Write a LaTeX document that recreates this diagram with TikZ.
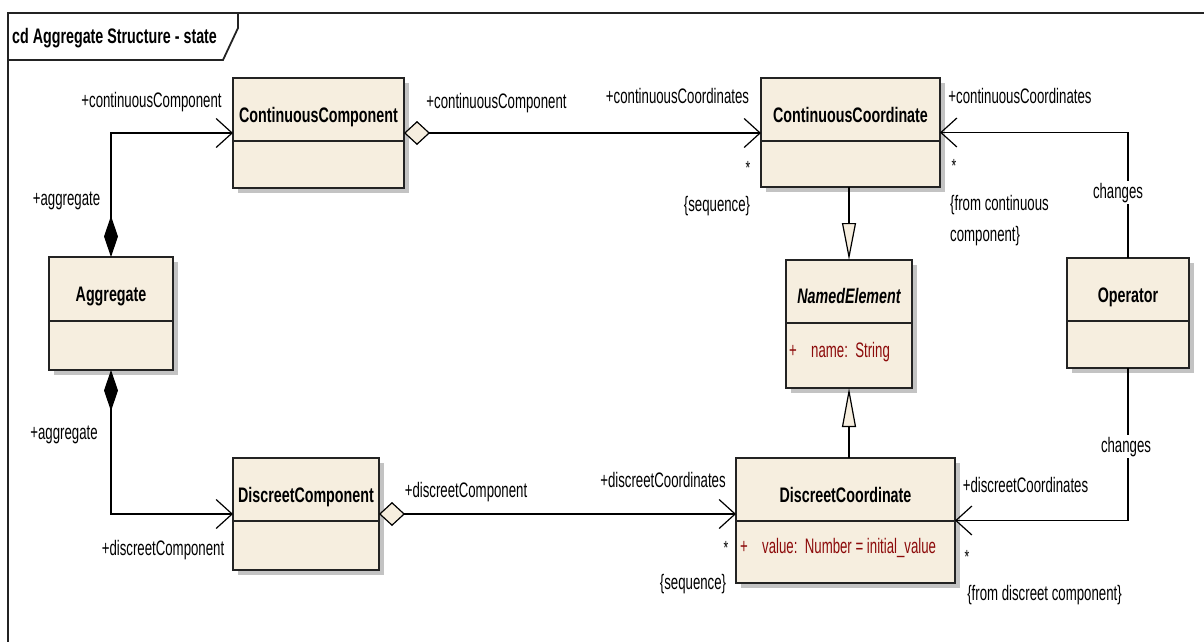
\documentclass[tikz,border=0pt]{standalone}
\usepackage{fontspec}
\usetikzlibrary{arrows.meta}
\newfontfamily\lblfont[FakeStretch=0.63]{Liberation Sans}
\newfontfamily\clsfont[FakeStretch=0.68]{Liberation Sans}
\definecolor{beige}{RGB}{246,238,223}
\definecolor{shadowc}{RGB}{195,195,195}
\definecolor{attrred}{RGB}{140,10,10}
\definecolor{edge}{RGB}{35,35,35}
\newcommand\umlbox[6]{%
  \fill[shadowc] (#2+5,#3+5) rectangle (#4+5,#6+5);
  \node[clsbox, minimum width={#4-#2}, minimum height={#6-#3}, anchor=north west] (#1) at (#2,#3) {};
  \draw[clsline] (#2,#5) -- (#4,#5);
}
\begin{document}
\begin{tikzpicture}[x=1pt,y=-1pt,
  clsbox/.style={draw=edge, fill=beige, line width=1.6pt, inner sep=0pt, outer sep=0pt},
  clsline/.style={draw=edge, line width=1.6pt},
  lbl/.style={font=\lblfont\fontsize{21}{24}\selectfont, inner sep=0pt, anchor=base},
  star/.style={font=\lblfont\fontsize{19}{22}\selectfont, inner sep=0pt, anchor=center},
  attr/.style={font=\lblfont\fontsize{21}{24}\selectfont, inner sep=0pt, anchor=base west, text=attrred},
  clsname/.style={font=\clsfont\bfseries\fontsize{21}{24}\selectfont, inner sep=0pt, anchor=base},
  conn/.style={draw=black, line width=1.2pt},
  nav/.style={-{Straight Barb[length=16pt,width=29pt]}},
  frame/.style={draw=edge, line width=1.8pt}
]
\useasboundingbox (0,0) rectangle (1204,641);
\clip (0,0) rectangle (1204,641);
\fill[white] (0,0) rectangle (1204,641);

% frame and title tab
\draw[frame] (8,700) -- (8,13) -- (1260,13);
\draw[frame] (8,60) -- (223,60) -- (238,28) -- (238,13);
\node[clsname, anchor=base west] (title) at (12,43) {cd Aggregate Structure - state};

% classes
\umlbox{cc}{233}{78}{404}{141}{188}
\umlbox{cco}{761}{78}{940}{141}{187}
\umlbox{agg}{49}{257}{173}{321}{370}
\umlbox{ne}{786}{260}{912}{323}{388}
\umlbox{op}{1067}{258}{1189}{321}{368}
\umlbox{dc}{233}{458}{379}{521}{570}
\umlbox{dco}{736}{458}{955}{521}{583}

\node[clsname] (ccT) at (318.5,122) {ContinuousComponent};
\node[clsname] (ccoT) at (850.5,122) {ContinuousCoordinate};
\node[clsname] (aggT) at (111,301) {Aggregate};
\node[clsname, font=\clsfont\bfseries\itshape\fontsize{21}{24}\selectfont] (neT) at (849,303) {NamedElement};
\node[clsname] (opT) at (1128,302) {Operator};
\node[clsname] (dcT) at (306,502) {DiscreetComponent};
\node[clsname] (dcoT) at (845.5,502) {DiscreetCoordinate};

\node[attr] (neP) at (789,357) {+};
\node[attr] (neA) at (811,357) {name:\ \ String};
\node[attr] (dcoP) at (740,553) {+};
\node[attr] (dcoA) at (762,553) {value:\ \ Number = initial\_value};

% connectors
\draw[conn, {Diamond[length=41pt,width=14pt]}-{Straight Barb[length=16pt,width=29pt]}] (agg.north) |- (cc.west);
\draw[conn, {Diamond[length=41pt,width=14pt]}-{Straight Barb[length=16pt,width=29pt]}] (agg.south) |- (dc.west);
\draw[conn, {Diamond[open,fill=beige,length=26pt,width=24pt]}-{Straight Barb[length=16pt,width=29pt]}] (cc.east) -- (cc.east -| cco.west);
\draw[conn, {Diamond[open,fill=beige,length=26pt,width=24pt]}-{Straight Barb[length=16pt,width=29pt]}] (dc.east) -- (dc.east -| dco.west);
\draw[conn, nav] (op.north) |- (cco.east);
\draw[conn, nav] (op.south) |- (dco.east);
\draw[conn, -{Triangle[open,fill=beige,length=37pt,width=14pt]}] (ne.north |- cco.south) -- (ne.north);
\draw[conn, -{Triangle[open,fill=beige,length=39pt,width=14pt]}] (ne.south |- dco.north) -- (ne.south);

% labels
\node[lbl] (l1) at (151.5,107) {+continuousComponent};
\node[lbl] (l2) at (66.5,205) {+aggregate};
\node[lbl] (l3) at (64,439) {+aggregate};
\node[lbl] (l4) at (163,555) {+discreetComponent};
\node[lbl] (l5) at (496.5,108) {+continuousComponent};
\node[lbl] (l6) at (677.5,103) {+continuousCoordinates};
\node[star] (s1) at (748,168) {*};
\node[lbl] (l7) at (717,211) {\{sequence\}};
\node[lbl] (l8) at (1020,103) {+continuousCoordinates};
\node[star] (s2) at (954,166) {*};
\node[lbl, anchor=base west] (l9) at (950,210) {\{from continuous};
\node[lbl, anchor=base west] (l10) at (950,241) {component\}};
\node[lbl, fill=white, inner sep=2pt] (ch1) at (1118,198) {changes};
\node[lbl, fill=white, inner sep=2pt] (ch2) at (1126,452) {changes};
\node[lbl] (l11) at (466,497) {+discreetComponent};
\node[lbl] (l12) at (663,487) {+discreetCoordinates};
\node[star] (s3) at (726,548) {*};
\node[lbl] (l13) at (693,589) {\{sequence\}};
\node[lbl] (l14) at (1025.5,492) {+discreetCoordinates};
\node[star] (s4) at (967,557) {*};
\node[lbl] (l15) at (1044.5,600) {\{from discreet component\}};
\end{tikzpicture}
\end{document}
